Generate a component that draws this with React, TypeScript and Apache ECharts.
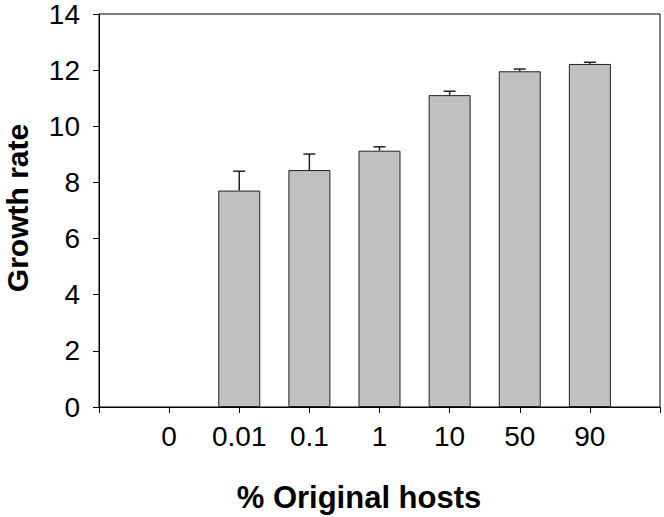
import React, { useEffect, useRef } from "react";
import * as echarts from "echarts";

const categories = ["0", "0.01", "0.1", "1", "10", "50", "90"];
const growthRate = [0, 7.71, 8.44, 9.13, 11.11, 11.96, 12.22];
const errorUp = [0, 0.69, 0.57, 0.14, 0.14, 0.08, 0.06];
const yTicks = [0, 2, 4, 6, 8, 10, 12, 14];

const FONT = "'Liberation Sans', Arial, Helvetica, sans-serif";

export default function App() {
  const ref = useRef<HTMLDivElement>(null);
  useEffect(() => {
    if (!ref.current) return;
    const chart = echarts.init(ref.current, null, { renderer: "svg" });
    // pad the category axis so the frame extends one step on each side
    const axisCats = ["", ...categories, ""];
    const errData = categories.map((c, i) => [c, growthRate[i], growthRate[i] + errorUp[i]]);
    chart.setOption({
      animation: false,
      backgroundColor: "#ffffff",
      grid: {
        left: 99,
        right: 4,
        top: 13,
        bottom: 110,
        show: true,
        borderColor: "#000",
        borderWidth: 1,
        backgroundColor: "transparent",
      },
      xAxis: {
        type: "category",
        data: axisCats,
        boundaryGap: false,
        axisLine: { lineStyle: { color: "#000", width: 1 } },
        axisTick: { show: true, length: 6, inside: false, lineStyle: { color: "#000" }, alignWithLabel: true },
        axisLabel: {
          interval: 0,
          color: "#000",
          fontSize: 28,
          fontFamily: FONT,
          margin: 15,
        },
        splitLine: { show: false },
        z: 5,
      },
      yAxis: {
        type: "value",
        min: yTicks[0],
        max: yTicks[yTicks.length - 1],
        interval: 2,
        axisLine: { show: true, lineStyle: { color: "#000", width: 1 } },
        axisTick: { show: true, length: 6, lineStyle: { color: "#000" } },
        axisLabel: { color: "#000", fontSize: 28, fontFamily: FONT, margin: 19 },
        splitLine: { show: false },
      },
      graphic: [
        {
          type: "text",
          x: 359,
          y: 497,
          style: {
            text: "% Original hosts",
            font: `bold 31px ${FONT}`,
            fill: "#000",
            textAlign: "center",
            textVerticalAlign: "middle",
          },
        },
        {
          type: "text",
          x: 17,
          y: 208,
          rotation: Math.PI / 2,
          style: {
            text: "Growth rate",
            font: `bold 30px ${FONT}`,
            fill: "#000",
            textAlign: "center",
            textVerticalAlign: "middle",
          },
        },
      ],
      series: [
        {
          type: "bar",
          data: categories.map((c, i) => ({
            value: [c, growthRate[i]],
            itemStyle: growthRate[i] === 0 ? { borderWidth: 0, opacity: 0 } : undefined,
          })),
          barWidth: 42,
          itemStyle: { color: "#c0c0c0", borderColor: "#222", borderWidth: 1 },
          z: 2,
        },
        {
          type: "custom",
          data: errData,
          z: 3,
          renderItem: (params: any, api: any) => {
            const x = api.value(0);
            const lo = api.coord([x, api.value(1)]);
            const hi = api.coord([x, api.value(2)]);
            if (Math.abs(lo[1] - hi[1]) < 0.5) return { type: "group", children: [] };
            const half = 6;
            const style = { stroke: "#222", lineWidth: 1.5 };
            return {
              type: "group",
              children: [
                { type: "line", shape: { x1: lo[0], y1: lo[1], x2: hi[0], y2: hi[1] }, style },
                { type: "line", shape: { x1: hi[0] - half, y1: hi[1], x2: hi[0] + half, y2: hi[1] }, style },
              ],
            };
          },
        },
      ],
    });
    return () => chart.dispose();
  }, []);
  return (
    <div
      ref={ref}
      style={{ position: "absolute", left: 0, top: 0, width: 664, height: 517 }}
    />
  );
}
